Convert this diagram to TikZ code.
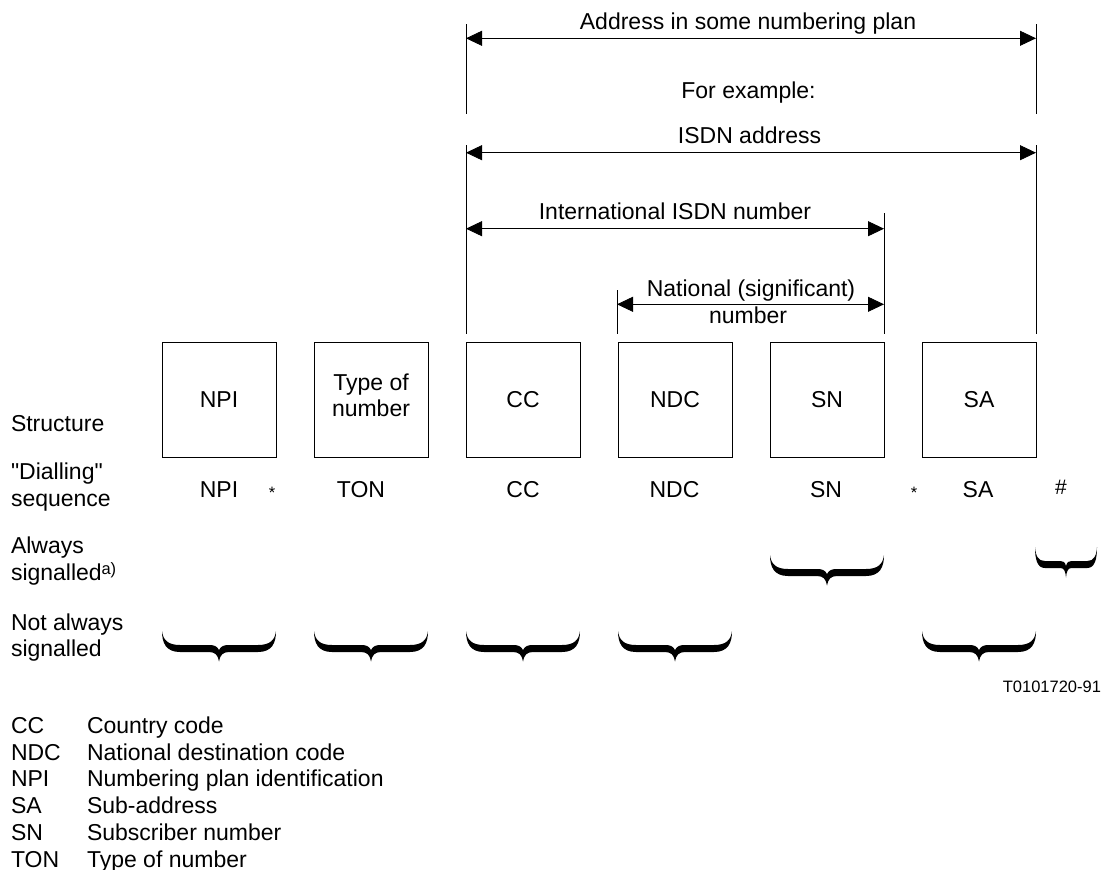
\documentclass[tikz,border=0pt]{standalone}
\usepackage{fontspec}
\setmainfont{Liberation Sans}
\font\qfnt="Liberation Sans" at 23pt
\usetikzlibrary{arrows.meta}
\tikzset{
  bracefill/.pic={
    \fill[black] (0,0) .. controls (0,12) and (4,21) .. (18,21) -- (47,21)
      .. controls (53,21) and (56,24) .. (57,30.5)
      .. controls (58,24) and (61,21) .. (67,21) -- (96,21)
      .. controls (110,21) and (114,12) .. (114,0)
      .. controls (113,9) and (108,14) .. (96,14) -- (67,14)
      .. controls (62,14) and (59,15) .. (57,19)
      .. controls (55,15) and (52,14) .. (47,14) -- (18,14)
      .. controls (6,14) and (1,9) .. (0,0) -- cycle;
  }
}
\begin{document}
\begin{tikzpicture}[x=1pt,y=-1pt,
  every node/.style={font=\fontsize{23}{27}\selectfont, inner sep=0pt, outer sep=0pt},
  lbl/.style={anchor=base},
  lblw/.style={anchor=base west},
  small/.style={font=\fontsize{16.5}{20}\selectfont},
  hashfont/.style={font=\fontsize{21}{24}\selectfont},
  box/.style={draw=black, line width=0.8pt, minimum width=114pt, minimum height=115pt, align=center},
  vline/.style={draw=black, line width=0.8pt},
  dimline/.style={draw=black, line width=0.8pt, {Triangle[length=16pt,width=15pt]}-{Triangle[length=16pt,width=15pt]}}
]
\useasboundingbox (0,0) rectangle (1106,870);

% ---- vertical extension lines
\coordinate (la1) at (466,24);  \coordinate (la2) at (466,114);
\coordinate (la3) at (466,145); \coordinate (la4) at (466,334);
\coordinate (ra1) at (1036,24);  \coordinate (ra2) at (1036,114);
\coordinate (ra3) at (1036,145); \coordinate (ra4) at (1036,334);
\coordinate (ma1) at (884,213); \coordinate (ma2) at (884,334);
\coordinate (na1) at (617,290); \coordinate (na2) at (617,334);
\draw[vline] (la1) -- (la2);
\draw[vline] (la3) -- (la4);
\draw[vline] (ra1) -- (ra2);
\draw[vline] (ra3) -- (ra4);
\draw[vline] (ma1) -- (ma2);
\draw[vline] (na1) -- (na2);

% ---- dimension arrows
\coordinate (addrL) at (466,38.3); \coordinate (addrR) at (1036,38.3);
\coordinate (isdnL) at (466,152.7); \coordinate (isdnR) at (1036,152.7);
\coordinate (intlL) at (466,228.7); \coordinate (intlR) at (884,228.7);
\coordinate (natL) at (617,304.3); \coordinate (natR) at (884,304.3);
\draw[dimline] (addrL) -- (addrR);
\draw[dimline] (isdnL) -- (isdnR);
\draw[dimline] (intlL) -- (intlR);
\draw[dimline] (natL) -- (natR);

\node[lbl] (taddr) at (748,29.5) {Address in some numbering plan};
\node[lbl] (tex) at (748.5,98.5) {For example:};
\node[lbl] (tisdn) at (749.5,143.3) {ISDN address};
\node[lbl] (tintl) at (675,219.3) {International ISDN number};
\node[lbl] (tnat1) at (751,296) {National (significant)};
\node[lbl] (tnat2) at (748,323) {number};

% ---- structure boxes
\node[box] (bnpi) at (219,399.5) {NPI};
\node[box] (bton) at (371,399.5) {};
\node[lbl] (bton1) at (371,390) {Type of};
\node[lbl] (bton2) at (371,416.7) {number};
\node[box] (bcc) at (523,399.5) {CC};
\node[box] (bndc) at (675,399.5) {NDC};
\node[box] (bsn) at (827,399.5) {SN};
\node[box] (bsa) at (979,399.5) {SA};

% ---- row labels
\node[lblw] (rstruct) at (11,431.7) {Structure};
\node[lblw] (rdial1) at (11,479) {\qfnt "Dialling"};
\node[lblw] (rdial2) at (11,506) {sequence};
\node[lblw] (ralw1) at (11,553.3) {Always};
\node[lblw] (ralw2) at (11,580.5) {signalled};
\node[lblw, small] (ralwa) at (101.5,574) {a)};
\node[lblw] (rnot1) at (11,630) {Not always};
\node[lblw] (rnot2) at (11,656.7) {signalled};

% ---- dialling sequence
\node[lbl] (dnpi) at (219,497.3) {NPI};
\node[lbl, small] (dst1) at (272,498.8) {*};
\node[lbl] (dton) at (361,497.3) {TON};
\node[lbl] (dcc) at (523,497.3) {CC};
\node[lbl] (dndc) at (674.5,497.3) {NDC};
\node[lbl] (dsn) at (826,497.3) {SN};
\node[lbl, small] (dst2) at (914,498.8) {*};
\node[lbl] (dsa) at (978,497.3) {SA};
\node[lbl, hashfont] (dhash) at (1061,494) {\#};

% ---- braces: always signalled
\pic at (770,555) {bracefill};
\pic[xscale=0.544] at (1035,547) {bracefill};
% ---- braces: not always signalled
\pic at (162,631) {bracefill};
\pic at (314,631) {bracefill};
\pic at (466,631) {bracefill};
\pic at (618,631) {bracefill};
\pic at (922,631) {bracefill};

\node[small, anchor=base east] (tref) at (1101,692.3) {T0101720-91};

% ---- legend
\node[lblw] (k1) at (11,733.3) {CC};   \node[lblw] (v1) at (87,733.3) {Country code};
\node[lblw] (k2) at (11,760.1) {NDC};  \node[lblw] (v2) at (87,760.1) {National destination code};
\node[lblw] (k3) at (11,786.9) {NPI};  \node[lblw] (v3) at (87,786.9) {Numbering plan identification};
\node[lblw] (k4) at (11,813.7) {SA};   \node[lblw] (v4) at (87,813.7) {Sub-address};
\node[lblw] (k5) at (11,840.5) {SN};   \node[lblw] (v5) at (87,840.5) {Subscriber number};
\node[lblw] (k6) at (11,867.3) {TON};  \node[lblw] (v6) at (87,867.3) {Type of number};
\end{tikzpicture}
\end{document}
